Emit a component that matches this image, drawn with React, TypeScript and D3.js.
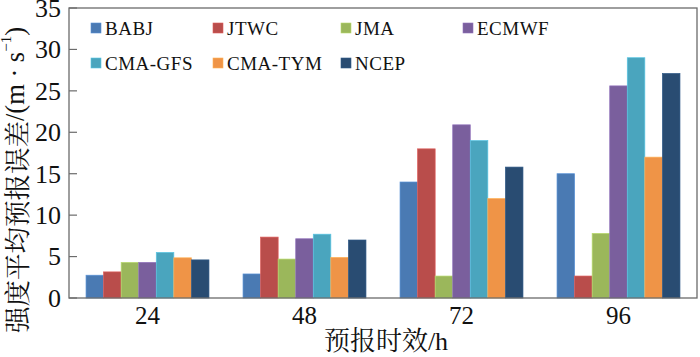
import React from "react";
import * as d3 from "d3";

const categories = ["24", "48", "72", "96"];
const seriesNames = ["BABJ", "JTWC", "JMA", "ECMWF", "CMA-GFS", "CMA-TYM", "NCEP"];
const BABJ = [2.75, 2.9, 14.0, 15.0];
const JTWC = [3.15, 7.35, 18.0, 2.65];
const JMA = [4.3, 4.7, 2.65, 7.8];
const ECMWF = [4.3, 7.15, 20.9, 25.6];
const CMA_GFS = [5.5, 7.7, 19.0, 29.0];
const CMA_TYM = [4.85, 4.9, 12.0, 17.0];
const NCEP = [4.6, 7.0, 15.8, 27.1];
const seriesValues = [BABJ, JTWC, JMA, ECMWF, CMA_GFS, CMA_TYM, NCEP];
const colors = ["#4a7ab3", "#b94d4b", "#9bb75b", "#7a5f9d", "#4aa5be", "#ef9447", "#294c72"];
const yTicks = [0, 5, 10, 15, 20, 25, 30, 35];

const W = 700;
const H = 357;
const L = 69, R = 697, T = 8, B = 298;
const serif = '"Liberation Serif"';
const cjk = '"Noto Serif CJK SC"';

export default function App() {
  const x0 = d3.scaleBand<string>().domain(categories).range([L, R]).paddingInner(0.217).paddingOuter(0.1085);
  const x1 = d3.scaleBand<string>().domain(seriesNames).range([0, x0.bandwidth()]).padding(0);
  const y = d3.scaleLinear().domain([0, 35]).range([B, T]);

  const legendX = [91, 213, 341, 463];
  const legendY = [28, 63];

  return (
    <svg width={W} height={H} style={{ position: "absolute", left: 0, top: 0, background: "#fff" }}>
      {categories.map((c, ci) => (
        <g key={c} transform={`translate(${x0(c)},0)`}>
          {seriesNames.map((s, si) => {
            const v = seriesValues[si][ci];
            return (
              <rect
                key={s}
                x={x1(s)}
                y={y(v)}
                width={x1.bandwidth()}
                height={B - y(v)}
                fill={colors[si]}
                stroke={d3.color(colors[si])!.brighter(0.5).toString()}
                strokeWidth={0.7}
              />
            );
          })}
        </g>
      ))}
      <rect x={L} y={T} width={R - L} height={B - T} fill="none" stroke="#6b6b6b" strokeWidth={1.3} />
      {yTicks.map((t) => (
        <g key={t}>
          <line x1={L} x2={L + 8} y1={y(t)} y2={y(t)} stroke="#6b6b6b" strokeWidth={1.2} />
          <text x={61} y={y(t)} dy="0.34em" textAnchor="end" style={{ fontFamily: serif, fontSize: 26 }} fill="#111">
            {t}
          </text>
        </g>
      ))}
      {categories.map((c) => (
        <text key={c} x={x0(c)! + x0.bandwidth() / 2} y={324} textAnchor="middle" style={{ fontFamily: serif, fontSize: 25 }} fill="#111">
          {c}
        </text>
      ))}
      <text x={386} y={350} textAnchor="middle" style={{ fontFamily: cjk, fontSize: 26 }} fill="#111">
        预报时效<tspan style={{ fontFamily: serif }}>/h</tspan>
      </text>
      <text
        transform={`translate(15,333) rotate(-90)`}
        textAnchor="start"
        dominantBaseline="central"
        style={{ fontFamily: cjk, fontSize: 26.5 }}
        fill="#111"
      >
        强度平均预报误差<tspan style={{ fontFamily: serif }}>/(m · s</tspan>
        <tspan style={{ fontFamily: serif, fontSize: 15 }} dy={-9}>−1</tspan>
        <tspan style={{ fontFamily: serif }} dy={9}>)</tspan>
      </text>
      {seriesNames.map((s, i) => {
        const row = i < 4 ? 0 : 1;
        const col = i < 4 ? i : i - 4;
        const lx = legendX[col];
        const ly = legendY[row];
        return (
          <g key={s}>
            <rect x={lx} y={ly - 5} width={10} height={10} fill={colors[i]} stroke={d3.color(colors[i])!.brighter(0.5).toString()} strokeWidth={0.6} />
            <text x={lx + 14} y={ly + 7} style={{ fontFamily: serif, fontSize: 19, letterSpacing: 0.5 }} fill="#111">
              {s}
            </text>
          </g>
        );
      })}
    </svg>
  );
}
